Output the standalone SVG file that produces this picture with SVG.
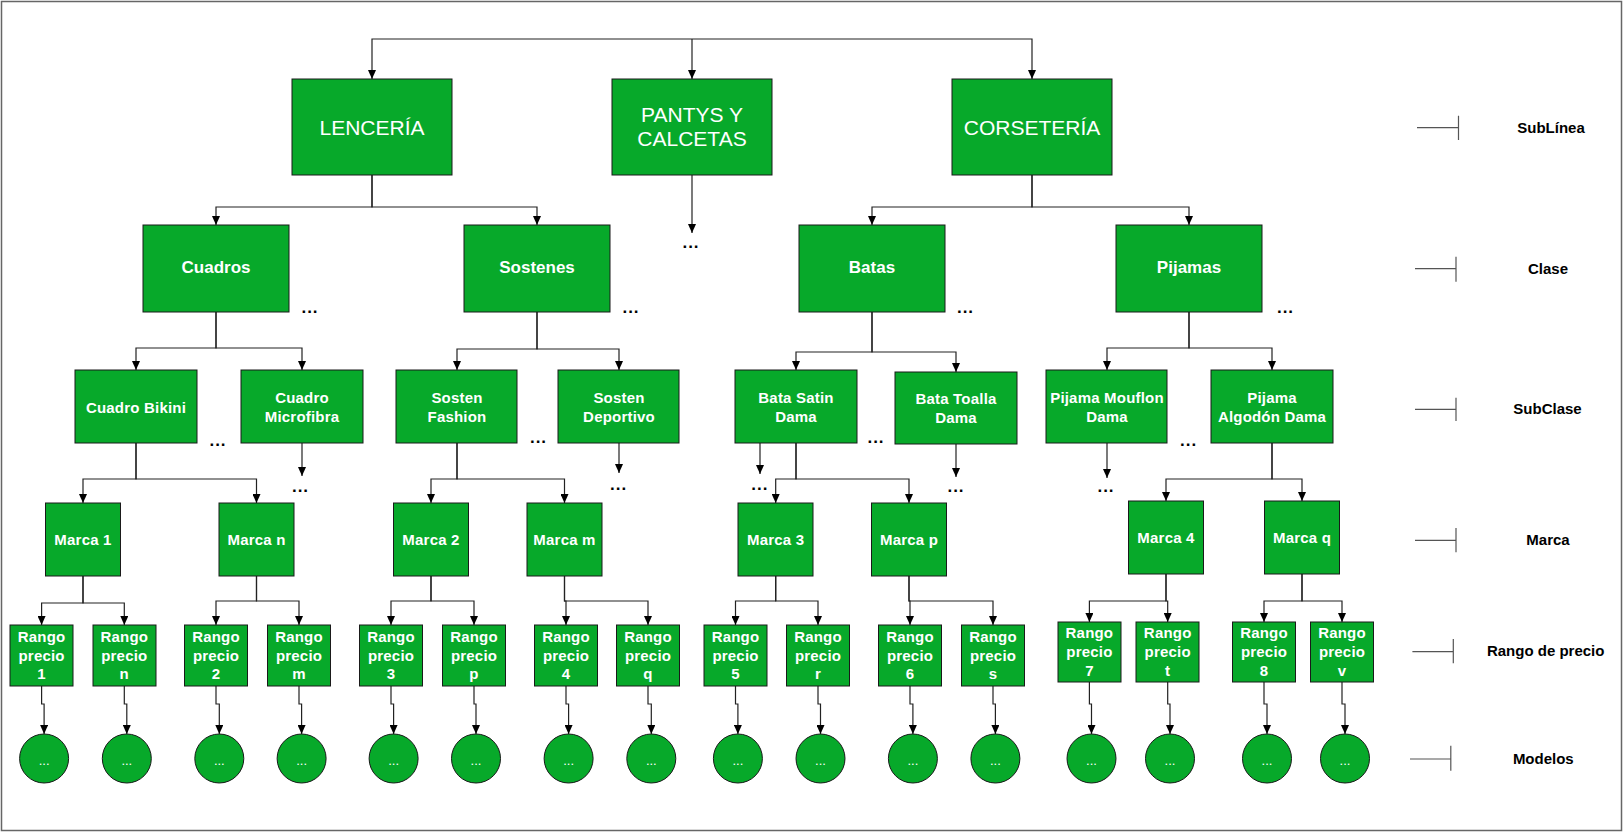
<svg xmlns="http://www.w3.org/2000/svg" width="1623" height="832" viewBox="0 0 1623 832">
<style>
.b{fill:#07a92a;stroke:#1a1a1a;stroke-width:1}
.t1{font-family:"Liberation Sans",Arial,sans-serif;font-size:21px;fill:#fff;text-anchor:middle;dominant-baseline:central}
.t2{font-family:"Liberation Sans",Arial,sans-serif;font-size:17px;font-weight:bold;fill:#fff;text-anchor:middle;dominant-baseline:central}
.t3{font-family:"Liberation Sans",Arial,sans-serif;font-size:15px;font-weight:bold;fill:#fff;text-anchor:middle;dominant-baseline:central;letter-spacing:0.2px}
.tc{font-family:"Liberation Sans",Arial,sans-serif;font-size:13px;fill:#fff;text-anchor:middle;dominant-baseline:central}
.lg{font-family:"Liberation Sans",Arial,sans-serif;font-size:15px;font-weight:bold;fill:#000;text-anchor:middle;dominant-baseline:central}
.d{font-family:"Liberation Sans",Arial,sans-serif;font-size:17px;font-weight:bold;fill:#000;text-anchor:middle;letter-spacing:1px}
.c path{fill:none;stroke:#222;stroke-width:1.2;marker-end:url(#ah)}
.l path{fill:none;stroke:#555;stroke-width:1.2}
</style>
<defs>
<marker id="ah" markerWidth="9" markerHeight="8" refX="9" refY="4" orient="auto" markerUnits="userSpaceOnUse"><path d="M0,0 L9,4 L0,8 z" fill="#000"/></marker>
</defs>
<rect x="1.5" y="1.5" width="1620" height="829" fill="#fff" stroke="#666" stroke-width="1.5"/>

<g id="connectors" class="c">
<path d="M692,39 H372 V79"/>
<path d="M692,39 V79"/>
<path d="M692,39 H1032 V79"/>
<path d="M372,175 V207 H216 V225"/>
<path d="M372,175 V207 H537 V225"/>
<path d="M692,175 V233"/>
<path d="M1032,175 V207 H872 V225"/>
<path d="M1032,175 V207 H1189 V225"/>
<path d="M216,312 V348 H136 V370"/>
<path d="M216,312 V348 H302 V370"/>
<path d="M537,312 V349 H457 V370"/>
<path d="M537,312 V349 H619 V370"/>
<path d="M872,312 V352 H796 V370"/>
<path d="M872,312 V352 H956 V372"/>
<path d="M1189,312 V348 H1107 V370"/>
<path d="M1189,312 V348 H1272 V370"/>
<path d="M136,443 V479 H83 V503"/>
<path d="M136,443 V479 H256.5 V503"/>
<path d="M302,443 V476"/>
<path d="M457,443 V479 H431 V503"/>
<path d="M457,443 V479 H564.5 V503"/>
<path d="M619,443 V473"/>
<path d="M796,443 V479 H775.7 V503"/>
<path d="M796,443 V479 H909 V503"/>
<path d="M760,436 V474"/>
<path d="M956,444 V477"/>
<path d="M1107,443 V478"/>
<path d="M1272,443 V479 H1166 V501"/>
<path d="M1272,443 V479 H1302 V501"/>
<path d="M83,576 V603 H41.6 V625"/>
<path d="M83,576 V603 H124.3 V625"/>
<path d="M256.5,576 V601 H216 V625"/>
<path d="M256.5,576 V601 H299 V625"/>
<path d="M431,576 V601 H391 V625"/>
<path d="M431,576 V601 H474 V625"/>
<path d="M564.5,576 V601 H566 V625"/>
<path d="M564.5,576 V601 H648 V625"/>
<path d="M775.7,576 V601 H735.5 V625"/>
<path d="M775.7,576 V601 H818 V625"/>
<path d="M909,576 V601 H910 V625"/>
<path d="M909,576 V601 H993 V625"/>
<path d="M1166,574 V601 H1089.4 V622"/>
<path d="M1166,574 V601 H1167.7 V622"/>
<path d="M1302,574 V601 H1264 V622"/>
<path d="M1302,574 V601 H1342 V622"/>
<path d="M41.6,686 V704 H44.1 V734"/>
<path d="M124.3,686 V704 H126.8 V734"/>
<path d="M216,686 V704 H219.3 V734"/>
<path d="M299,686 V704 H301.6 V734"/>
<path d="M391,686 V704 H393.6 V734"/>
<path d="M474,686 V704 H476 V734"/>
<path d="M566,686 V704 H568.6 V734"/>
<path d="M648,686 V704 H651.3 V734"/>
<path d="M735.5,686 V704 H737.9 V734"/>
<path d="M818,686 V704 H820.5 V734"/>
<path d="M910,686 V704 H912.9 V734"/>
<path d="M993,686 V704 H995.4 V734"/>
<path d="M1089.4,682 V704 H1091.5 V734"/>
<path d="M1167.7,682 V704 H1170 V734"/>
<path d="M1264,682 V704 H1267 V734"/>
<path d="M1342,682 V704 H1345 V734"/>
</g>

<g id="lenceria"><rect class="b" x="292" y="79" width="160" height="96"/><text class="t1" x="372" y="127">LENCERÍA</text></g>
<g id="pantys"><rect class="b" x="612" y="79" width="160" height="96"/><text class="t1" x="692" y="114">PANTYS Y</text><text class="t1" x="692" y="138">CALCETAS</text></g>
<g id="corseteria"><rect class="b" x="952" y="79" width="160" height="96"/><text class="t1" x="1032" y="127">CORSETERÍA</text></g>

<g id="cuadros"><rect class="b" x="143" y="225" width="146" height="87"/><text class="t2" x="216" y="267">Cuadros</text></g>
<g id="sostenes"><rect class="b" x="464" y="225" width="146" height="87"/><text class="t2" x="537" y="267">Sostenes</text></g>
<g id="batas"><rect class="b" x="799" y="225" width="146" height="87"/><text class="t2" x="872" y="267">Batas</text></g>
<g id="pijamas"><rect class="b" x="1116" y="225" width="146" height="87"/><text class="t2" x="1189" y="267">Pijamas</text></g>

<g id="cuadro-bikini"><rect class="b" x="75" y="370" width="122" height="73"/><text class="t3" x="136" y="407">Cuadro Bikini</text></g>
<g id="cuadro-microfibra"><rect class="b" x="241" y="370" width="122" height="73"/><text class="t3" x="302" y="397">Cuadro</text><text class="t3" x="302" y="416">Microfibra</text></g>
<g id="sosten-fashion"><rect class="b" x="396" y="370" width="121" height="73"/><text class="t3" x="457" y="397">Sosten</text><text class="t3" x="457" y="416">Fashion</text></g>
<g id="sosten-deportivo"><rect class="b" x="558" y="370" width="121" height="73"/><text class="t3" x="619" y="397">Sosten</text><text class="t3" x="619" y="416">Deportivo</text></g>
<g id="bata-satin"><rect class="b" x="735" y="370" width="122" height="73"/><text class="t3" x="796" y="397">Bata Satin</text><text class="t3" x="796" y="416">Dama</text></g>
<g id="bata-toalla"><rect class="b" x="895" y="372" width="122" height="72"/><text class="t3" x="956" y="398">Bata Toalla</text><text class="t3" x="956" y="417">Dama</text></g>
<g id="pijama-mouflon"><rect class="b" x="1046" y="370" width="121" height="73"/><text class="t3" x="1107" y="397">Pijama Mouflon</text><text class="t3" x="1107" y="416">Dama</text></g>
<g id="pijama-algodon"><rect class="b" x="1211" y="370" width="122" height="73"/><text class="t3" x="1272" y="397">Pijama</text><text class="t3" x="1272" y="416">Algodón Dama</text></g>

<g id="marca-1"><rect class="b" x="45.5" y="503" width="75" height="73"/><text class="t3" x="83" y="539">Marca 1</text></g>
<g id="marca-n"><rect class="b" x="219" y="503" width="75" height="73"/><text class="t3" x="256.5" y="539">Marca n</text></g>
<g id="marca-2"><rect class="b" x="393.5" y="503" width="75" height="73"/><text class="t3" x="431" y="539">Marca 2</text></g>
<g id="marca-m"><rect class="b" x="527" y="503" width="75" height="73"/><text class="t3" x="564.5" y="539">Marca m</text></g>
<g id="marca-3"><rect class="b" x="738" y="503" width="75" height="73"/><text class="t3" x="775.7" y="539">Marca 3</text></g>
<g id="marca-p"><rect class="b" x="871.5" y="503" width="75" height="73"/><text class="t3" x="909" y="539">Marca p</text></g>
<g id="marca-4"><rect class="b" x="1128.5" y="501" width="75" height="73"/><text class="t3" x="1166" y="537">Marca 4</text></g>
<g id="marca-q"><rect class="b" x="1264.5" y="501" width="75" height="73"/><text class="t3" x="1302" y="537">Marca q</text></g>

<g id="rango-1"><rect class="b" x="10" y="625" width="63" height="61"/><text class="t3" x="41.6" y="636">Rango</text><text class="t3" x="41.6" y="655">precio</text><text class="t3" x="41.6" y="673">1</text></g>
<g id="rango-n"><rect class="b" x="93" y="625" width="63" height="61"/><text class="t3" x="124.3" y="636">Rango</text><text class="t3" x="124.3" y="655">precio</text><text class="t3" x="124.3" y="673">n</text></g>
<g id="rango-2"><rect class="b" x="184.5" y="625" width="63" height="61"/><text class="t3" x="216" y="636">Rango</text><text class="t3" x="216" y="655">precio</text><text class="t3" x="216" y="673">2</text></g>
<g id="rango-m"><rect class="b" x="267.5" y="625" width="63" height="61"/><text class="t3" x="299" y="636">Rango</text><text class="t3" x="299" y="655">precio</text><text class="t3" x="299" y="673">m</text></g>
<g id="rango-3"><rect class="b" x="359.5" y="625" width="63" height="61"/><text class="t3" x="391" y="636">Rango</text><text class="t3" x="391" y="655">precio</text><text class="t3" x="391" y="673">3</text></g>
<g id="rango-p"><rect class="b" x="442.5" y="625" width="63" height="61"/><text class="t3" x="474" y="636">Rango</text><text class="t3" x="474" y="655">precio</text><text class="t3" x="474" y="673">p</text></g>
<g id="rango-4"><rect class="b" x="534.5" y="625" width="63" height="61"/><text class="t3" x="566" y="636">Rango</text><text class="t3" x="566" y="655">precio</text><text class="t3" x="566" y="673">4</text></g>
<g id="rango-q"><rect class="b" x="616.5" y="625" width="63" height="61"/><text class="t3" x="648" y="636">Rango</text><text class="t3" x="648" y="655">precio</text><text class="t3" x="648" y="673">q</text></g>
<g id="rango-5"><rect class="b" x="704" y="625" width="63" height="61"/><text class="t3" x="735.5" y="636">Rango</text><text class="t3" x="735.5" y="655">precio</text><text class="t3" x="735.5" y="673">5</text></g>
<g id="rango-r"><rect class="b" x="786.5" y="625" width="63" height="61"/><text class="t3" x="818" y="636">Rango</text><text class="t3" x="818" y="655">precio</text><text class="t3" x="818" y="673">r</text></g>
<g id="rango-6"><rect class="b" x="878.5" y="625" width="63" height="61"/><text class="t3" x="910" y="636">Rango</text><text class="t3" x="910" y="655">precio</text><text class="t3" x="910" y="673">6</text></g>
<g id="rango-s"><rect class="b" x="961.5" y="625" width="63" height="61"/><text class="t3" x="993" y="636">Rango</text><text class="t3" x="993" y="655">precio</text><text class="t3" x="993" y="673">s</text></g>
<g id="rango-7"><rect class="b" x="1058" y="622" width="63" height="60"/><text class="t3" x="1089.4" y="632">Rango</text><text class="t3" x="1089.4" y="651">precio</text><text class="t3" x="1089.4" y="670">7</text></g>
<g id="rango-t"><rect class="b" x="1136" y="622" width="63" height="60"/><text class="t3" x="1167.7" y="632">Rango</text><text class="t3" x="1167.7" y="651">precio</text><text class="t3" x="1167.7" y="670">t</text></g>
<g id="rango-8"><rect class="b" x="1232.5" y="622" width="63" height="60"/><text class="t3" x="1264" y="632">Rango</text><text class="t3" x="1264" y="651">precio</text><text class="t3" x="1264" y="670">8</text></g>
<g id="rango-v"><rect class="b" x="1310.5" y="622" width="63" height="60"/><text class="t3" x="1342" y="632">Rango</text><text class="t3" x="1342" y="651">precio</text><text class="t3" x="1342" y="670">v</text></g>

<g id="modelos-1"><circle class="b" cx="44.1" cy="758.5" r="24.5"/><text class="tc" x="44.1" y="760">...</text></g>
<g id="modelos-n"><circle class="b" cx="126.8" cy="758.5" r="24.5"/><text class="tc" x="126.8" y="760">...</text></g>
<g id="modelos-2"><circle class="b" cx="219.3" cy="758.5" r="24.5"/><text class="tc" x="219.3" y="760">...</text></g>
<g id="modelos-m"><circle class="b" cx="301.6" cy="758.5" r="24.5"/><text class="tc" x="301.6" y="760">...</text></g>
<g id="modelos-3"><circle class="b" cx="393.6" cy="758.5" r="24.5"/><text class="tc" x="393.6" y="760">...</text></g>
<g id="modelos-p"><circle class="b" cx="476" cy="758.5" r="24.5"/><text class="tc" x="476" y="760">...</text></g>
<g id="modelos-4"><circle class="b" cx="568.6" cy="758.5" r="24.5"/><text class="tc" x="568.6" y="760">...</text></g>
<g id="modelos-q"><circle class="b" cx="651.3" cy="758.5" r="24.5"/><text class="tc" x="651.3" y="760">...</text></g>
<g id="modelos-5"><circle class="b" cx="737.9" cy="758.5" r="24.5"/><text class="tc" x="737.9" y="760">...</text></g>
<g id="modelos-r"><circle class="b" cx="820.5" cy="758.5" r="24.5"/><text class="tc" x="820.5" y="760">...</text></g>
<g id="modelos-6"><circle class="b" cx="912.9" cy="758.5" r="24.5"/><text class="tc" x="912.9" y="760">...</text></g>
<g id="modelos-s"><circle class="b" cx="995.4" cy="758.5" r="24.5"/><text class="tc" x="995.4" y="760">...</text></g>
<g id="modelos-7"><circle class="b" cx="1091.5" cy="758.5" r="24.5"/><text class="tc" x="1091.5" y="760">...</text></g>
<g id="modelos-t"><circle class="b" cx="1170" cy="758.5" r="24.5"/><text class="tc" x="1170" y="760">...</text></g>
<g id="modelos-8"><circle class="b" cx="1267" cy="758.5" r="24.5"/><text class="tc" x="1267" y="760">...</text></g>
<g id="modelos-v"><circle class="b" cx="1345" cy="758.5" r="24.5"/><text class="tc" x="1345" y="760">...</text></g>

<g id="ellipses">
<text class="d" x="310" y="313">...</text>
<text class="d" x="631" y="313">...</text>
<text class="d" x="965.5" y="313">...</text>
<text class="d" x="1285.5" y="313">...</text>
<text class="d" x="691" y="248">...</text>
<text class="d" x="218" y="446">...</text>
<text class="d" x="538.5" y="443">...</text>
<text class="d" x="876" y="443">...</text>
<text class="d" x="1188.7" y="446">...</text>
<text class="d" x="300.5" y="492">...</text>
<text class="d" x="618.7" y="490">...</text>
<text class="d" x="759.8" y="490">...</text>
<text class="d" x="956" y="492">...</text>
<text class="d" x="1106" y="492">...</text>
</g>

<g id="legend" class="l">
<path d="M1417,127.7 H1458.5 M1458.5,115.7 V140"/>
<text class="lg" x="1551" y="127">SubLínea</text>
<path d="M1415,268.7 H1456 M1456,256.7 V281.7"/>
<text class="lg" x="1548" y="268">Clase</text>
<path d="M1415,409.3 H1456 M1456,397.7 V421"/>
<text class="lg" x="1547.5" y="408.5">SubClase</text>
<path d="M1415,540.3 H1456 M1456,528 V552.3"/>
<text class="lg" x="1548" y="539.5">Marca</text>
<path d="M1412.4,651.7 H1453.3 M1453.3,639 V663.3"/>
<text class="lg" x="1545.7" y="650">Rango de precio</text>
<path d="M1410,759 H1450.8 M1450.8,745.7 V770.7"/>
<text class="lg" x="1543.3" y="758">Modelos</text>
</g>
</svg>
